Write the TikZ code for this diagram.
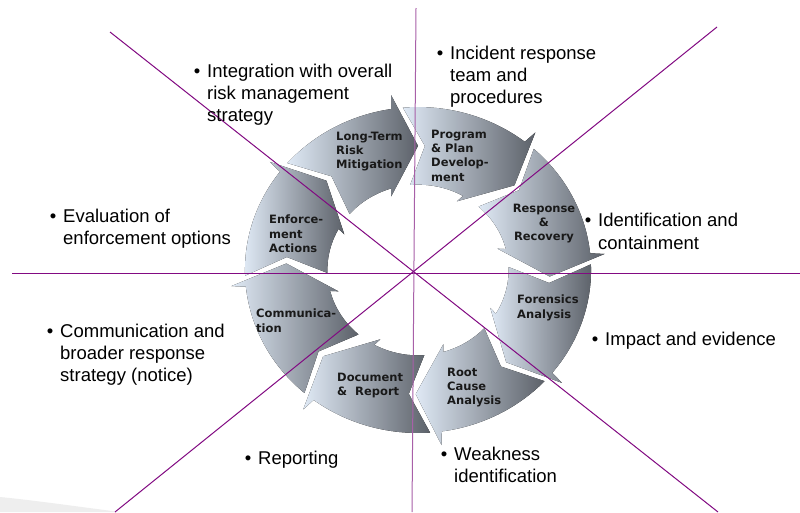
\documentclass[tikz,border=0pt]{standalone}
\usepackage{fontspec}
\setmainfont{Liberation Sans}
\newfontfamily\arrowfont{DejaVu Sans}
\usetikzlibrary{calc}
\definecolor{arrowlight}{HTML}{DFE9F5}
\definecolor{arrowdark}{HTML}{5C6169}
\definecolor{linepurple}{HTML}{820A82}
\definecolor{vpurple}{HTML}{A860A8}
\definecolor{faintgrey}{HTML}{EEEEEE}
\newcommand\bulmark{\makebox[13.25pt][l]{•}}
\newcommand\bulind{\hspace*{13.25pt}}
% #1 tail boundary angle, #2 head tip angle
\newcommand\ringarrow[2]{%
  \fill[arrowshade] ({#1+5}:168) arc[start angle={#1+5}, end angle={#2+8.9}, radius=168]
    -- ($({#2}:180)+({#2+90}:26)$) -- ({#2}:128) -- ($({#2}:76)+({#2+90}:26)$)
    -- ({#2+17.2}:88) arc[start angle={#2+17.2}, end angle={#1+5}, radius=88]
    -- ({#1-3}:128) -- cycle;}
\tikzset{
  arrowshade/.style={left color=arrowlight, right color=arrowdark},
  lbl/.style={font=\arrowfont\bfseries\fontsize{11.5}{14.2}\selectfont, align=left, inner sep=0pt, anchor=north west, text=black!90},
  btxt/.style={font=\fontsize{18.5}{22.3}\selectfont, align=left, inner sep=0pt, anchor=north west, text=black},
  guide/.style={draw=linepurple, line width=1pt},
  vguide/.style={draw=vpurple, line width=1pt}
}
\begin{document}
\begin{tikzpicture}[x=1pt,y=-1pt]
\fill[white] (0,0) rectangle (800,512);
\useasboundingbox (0,0) rectangle (800,512);
\fill[faintgrey] (0,497) .. controls (40,501) and (80,507) .. (120,512) -- (0,512) -- cycle;

% ring of arrows
\begin{scope}[shift={(418,270)}, x=1.03pt, y=0.97pt]
  \ringarrow{134}{90}   % Long-Term
  \ringarrow{90}{43}    % Program
  \ringarrow{43}{-3}    % Response
  \ringarrow{-3}{-48}   % Forensics
  \ringarrow{-48}{-91}  % Root cause
  \ringarrow{-91}{-136} % Document
  \ringarrow{-136}{-183}% Communication
  \ringarrow{177}{134}  % Enforcement
\end{scope}

% arrow labels
\node[lbl] (lt) at (336,131.5) {Long-Term\\Risk\\Mitigation};
\node[lbl] (pp) at (431,130) {Program\\\& Plan\\Develop-\\ment};
\node[lbl, align=center, anchor=north] (rr) at (544,203.8) {Response\\\&\\Recovery};
\node[lbl] (fa) at (517,295) {Forensics\\Analysis};
\node[lbl] (rc) at (447,368) {Root\\Cause\\Analysis};
\node[lbl] (dr) at (337,373) {Document\\\&\ \ Report};
\node[lbl] (cm) at (256,309) {Communica-\\tion};
\node[lbl] (ea) at (269,215) {Enforce-\\ment\\Actions};

% guide lines
\coordinate (hl) at (12,273);
\coordinate (hr) at (800,273);
\coordinate (vt) at (416,8);
\coordinate (vb) at (412,512);
\coordinate (d1a) at (110,32);
\coordinate (d1b) at (718,512);
\coordinate (d2a) at (717,27);
\coordinate (d2b) at (115,512);
\draw[guide] (hl) -- (hr);
\draw[vguide] (vt) -- (vb);
\draw[guide] (d1a) -- (d1b);
\draw[guide] (d2a) -- (d2b);

% bullet texts
\node[btxt] (b1) at (193.75,63.7) {\bulmark Integration with overall\\\bulind risk management\\\bulind strategy};
\node[btxt] (b2) at (49.75,208.7) {\bulmark Evaluation of\\\bulind enforcement options};
\node[btxt] (b3) at (436.75,45.7) {\bulmark Incident response\\\bulind team and\\\bulind procedures};
\node[btxt] (b4) at (584.75,213.2) {\bulmark Identification and\\\bulind containment};
\node[btxt] (b5) at (591.75,331.7) {\bulmark Impact and evidence};
\node[btxt] (b6) at (46.75,323.7) {\bulmark Communication and\\\bulind broader response\\\bulind strategy (notice)};
\node[btxt] (b7) at (244.75,450.7) {\bulmark Reporting};
\node[btxt] (b8) at (440.75,446.7) {\bulmark Weakness\\\bulind identification};
\end{tikzpicture}
\end{document}
